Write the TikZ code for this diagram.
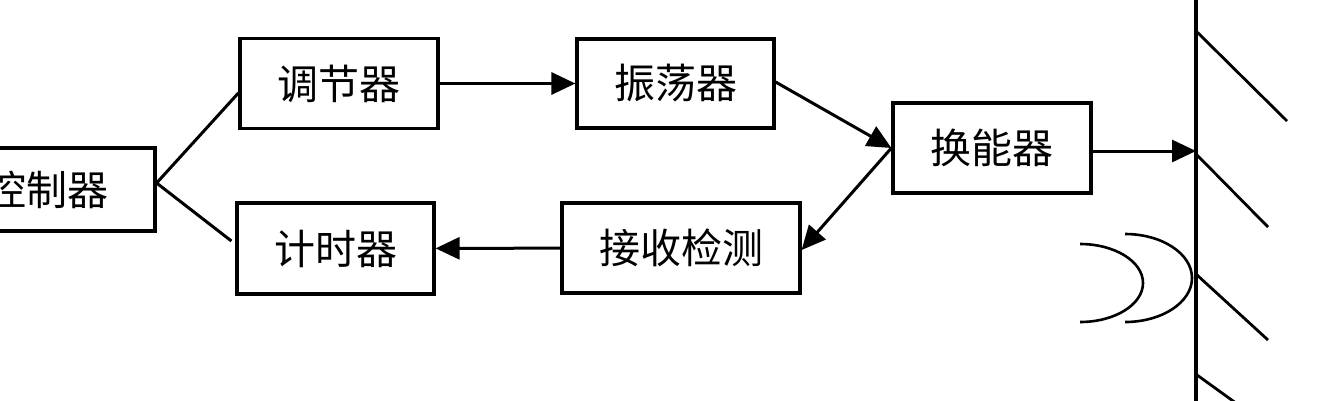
\documentclass[tikz,border=0pt]{standalone}
\usepackage{fontspec}
\newfontfamily\cjk{Noto Sans CJK SC}
\usetikzlibrary{arrows.meta}
\begin{document}
\begin{tikzpicture}[x=1pt,y=-1pt,
  box/.style={draw, line width=3.2pt, inner sep=0pt, font=\cjk\fontsize{41}{41}\selectfont, anchor=center},
  conn/.style={line width=3pt},
  arr/.style={conn, -{Triangle[length=24pt,width=22pt]}},
  hatch/.style={line width=2.8pt},
  wave/.style={line width=2.6pt}
  ]
\useasboundingbox (0,0) rectangle (1341,400);
\node[box, minimum width=216pt, minimum height=83pt] (kz) at (47,189.5) {控制器};
\node[box, minimum width=198pt, minimum height=90pt] (tj) at (339,83.5) {调节器};
\node[box, minimum width=197pt, minimum height=89pt] (zd) at (675.5,83.5) {振荡器};
\node[box, minimum width=198pt, minimum height=90pt] (hn) at (992,148) {换能器};
\node[box, minimum width=197pt, minimum height=91pt] (js) at (335.5,248.5) {计时器};
\node[box, minimum width=238pt, minimum height=90pt] (jc) at (681,248) {接收检测};
\coordinate (w1) at (1196,-5);
\coordinate (w2) at (1196,405);
\coordinate (ha) at ([yshift=-3pt]hn.east);
% connectors
\draw[conn] ([yshift=6.5pt]kz.east) -- ([yshift=-9.5pt]tj.west);
\draw[conn] ([yshift=6.5pt]kz.east) -- ([shift={(-4pt,7.5pt)}]js.west);
\draw[arr] (tj) -- (zd);
\draw[arr] ([yshift=1.5pt]zd.east) -- (hn.west);
\draw[arr] (hn.west) -- ([yshift=-2pt]jc.east);
\draw[arr] (jc) -- (js);
\draw[arr] (ha) -- (ha -| w1);
% wall
\draw[line width=3.4pt] (w1) -- (w2);
\draw[hatch] (1197,32) -- (1287,121);
\draw[hatch] (1197,155) -- (1268,227);
\draw[hatch] (1197,275) -- (1268,340);
\draw[hatch] (1197,375) -- (1240,406);
% waves
\draw[wave] (1080,244) .. controls (1114.8,244) and (1143,261.5) .. (1143,283) .. controls (1143,304.5) and (1114.8,322) .. (1080,322);
\draw[wave] (1125,234) .. controls (1162,234) and (1192,253.7) .. (1192,278) .. controls (1192,302.3) and (1162,322) .. (1125,322);
\end{tikzpicture}
\end{document}
